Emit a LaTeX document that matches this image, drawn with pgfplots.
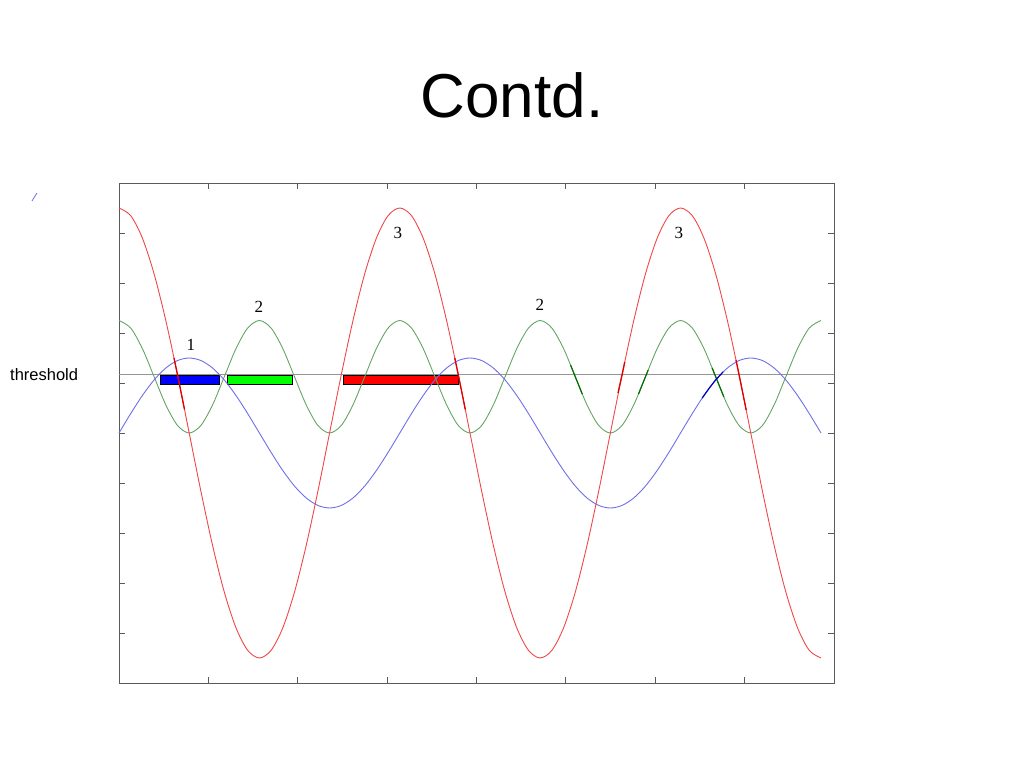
\documentclass[border=0pt]{standalone}
\usepackage{pgfplots}
\usepackage{pgfplotstable}
\pgfplotsset{compat=1.18}
\usepackage{fontspec}
\setmainfont{Liberation Sans}
\newfontfamily\seriffont{Liberation Serif}
\definecolor{redc}{RGB}{240,70,70}
\definecolor{greenc}{RGB}{100,165,100}
\definecolor{bluec}{RGB}{110,110,235}
\definecolor{axisgray}{RGB}{90,90,90}
\definecolor{thrgray}{RGB}{150,150,150}
\pgfplotstableread{
k red blue green
0 9.5 5 7.25
1 9.347 5.388 7.099
2 8.897 5.75 6.688
3 8.182 6.061 6.125
4 7.25 6.299 5.563
5 6.165 6.449 5.151
6 5 6.5 5
7 3.835 6.449 5.151
8 2.75 6.299 5.563
9 1.818 6.061 6.125
10 1.103 5.75 6.688
11 0.653 5.388 7.099
12 0.5 5 7.25
13 0.653 4.612 7.099
14 1.103 4.25 6.688
15 1.818 3.939 6.125
16 2.75 3.701 5.563
17 3.835 3.551 5.151
18 5 3.5 5
19 6.165 3.551 5.151
20 7.25 3.701 5.563
21 8.182 3.939 6.125
22 8.897 4.25 6.688
23 9.347 4.612 7.099
24 9.5 5 7.25
25 9.347 5.388 7.099
26 8.897 5.75 6.688
27 8.182 6.061 6.125
28 7.25 6.299 5.563
29 6.165 6.449 5.151
30 5 6.5 5
31 3.835 6.449 5.151
32 2.75 6.299 5.563
33 1.818 6.061 6.125
34 1.103 5.75 6.688
35 0.653 5.388 7.099
36 0.5 5 7.25
37 0.653 4.612 7.099
38 1.103 4.25 6.688
39 1.818 3.939 6.125
40 2.75 3.701 5.563
41 3.835 3.551 5.151
42 5 3.5 5
43 6.165 3.551 5.151
44 7.25 3.701 5.563
45 8.182 3.939 6.125
46 8.897 4.25 6.688
47 9.347 4.612 7.099
48 9.5 5 7.25
49 9.347 5.388 7.099
50 8.897 5.75 6.688
51 8.182 6.061 6.125
52 7.25 6.299 5.563
53 6.165 6.449 5.151
54 5 6.5 5
55 3.835 6.449 5.151
56 2.75 6.299 5.563
57 1.818 6.061 6.125
58 1.103 5.75 6.688
59 0.653 5.388 7.099
60 0.5 5 7.25
}\curves
\begin{document}
\begin{tikzpicture}
\useasboundingbox (0,0) rectangle (1024bp,768bp);
\node[anchor=base, inner sep=0, font=\fontsize{62bp}{70bp}\selectfont] at (512bp,650bp) {Contd.};
\node[anchor=base west, inner sep=0, font=\fontsize{16.5bp}{20bp}\selectfont] at (10bp,387bp) {threshold};
\draw[color=bluec, line width=0.8pt] (32bp,567bp) -- (37bp,575bp);
\begin{axis}[
  at={(119bp,85bp)}, anchor=south west,
  width=715bp, height=500bp, scale only axis,
  xmin=0, xmax=61.115, ymin=0, ymax=10,
  xtick={7.639,15.279,22.918,30.558,38.197,45.837,53.476},
  ytick={1,2,3,4,5,6,7,8,9},
  xticklabels={}, yticklabels={},
  tick align=inside, major tick length=6bp,
  axis line style={draw=axisgray, line width=0.9pt},
  tick style={draw=axisgray, line width=0.9pt},
  clip=false,
]
\addplot[thrgray, line width=0.6pt] coordinates {(0,6.17) (61.115,6.17)};
% bars
\addplot[fill={rgb,255:red,0;green,0;blue,255}, draw=black, line width=0.4pt] coordinates {(3.5,5.98) (8.55,5.98) (8.55,6.15) (3.5,6.15)} -- cycle;
\addplot[fill={rgb,255:red,0;green,255;blue,0}, draw=black, line width=0.4pt] coordinates {(9.23,5.98) (14.79,5.98) (14.79,6.15) (9.23,6.15)} -- cycle;
\addplot[fill={rgb,255:red,255;green,0;blue,0}, draw=black, line width=0.4pt] coordinates {(19.15,5.98) (28.97,5.98) (28.97,6.15) (19.15,6.15)} -- cycle;
% curves
\addplot[greenc, smooth, line width=0.9pt] table[x=k, y=green] {\curves};
\addplot[bluec, smooth, line width=0.9pt] table[x=k, y=blue] {\curves};
\addplot[redc, smooth, line width=0.9pt] table[x=k, y=red] {\curves};
% highlighted crossings
\addplot[color={rgb,255:red,225;green,0;blue,0}, line width=1.3pt] coordinates {(4.7,6.502) (5,6.165) (5.6,5.47)};
\addplot[color={rgb,255:red,225;green,0;blue,0}, line width=1.3pt] coordinates {(28.7,6.502) (29,6.165) (29.6,5.47)};
\addplot[color={rgb,255:red,225;green,0;blue,0}, line width=1.3pt] coordinates {(42.65,5.8) (43,6.165) (43.23,6.42)};
\addplot[color={rgb,255:red,225;green,0;blue,0}, line width=1.3pt] coordinates {(52.74,6.46) (53,6.165) (53.61,5.46)};
\addplot[color={rgb,255:red,0;green,110;blue,0}, line width=1.2pt] coordinates {(38.6,6.359) (39,6.125) (39.6,5.777)};
\addplot[color={rgb,255:red,0;green,110;blue,0}, line width=1.2pt] coordinates {(44.4,5.777) (45,6.125) (45.23,6.26)};
\addplot[color={rgb,255:red,0;green,110;blue,0}, line width=1.2pt] coordinates {(50.7,6.301) (51,6.125) (51.7,5.722)};
\addplot[color={rgb,255:red,0;green,0;blue,190}, line width=1.2pt] coordinates {(49.85,5.7) (50.5,5.913) (51,6.061) (51.63,6.22)};
% labels
\node[font=\seriffont\fontsize{17bp}{20bp}\selectfont] at (axis cs:6.15,6.76) {1};
\node[font=\seriffont\fontsize{17bp}{20bp}\selectfont] at (axis cs:11.96,7.52) {2};
\node[font=\seriffont\fontsize{17bp}{20bp}\selectfont] at (axis cs:23.84,9.0) {3};
\node[font=\seriffont\fontsize{17bp}{20bp}\selectfont] at (axis cs:35.97,7.56) {2};
\node[font=\seriffont\fontsize{17bp}{20bp}\selectfont] at (axis cs:47.85,9.0) {3};
\end{axis}
\end{tikzpicture}
\end{document}
